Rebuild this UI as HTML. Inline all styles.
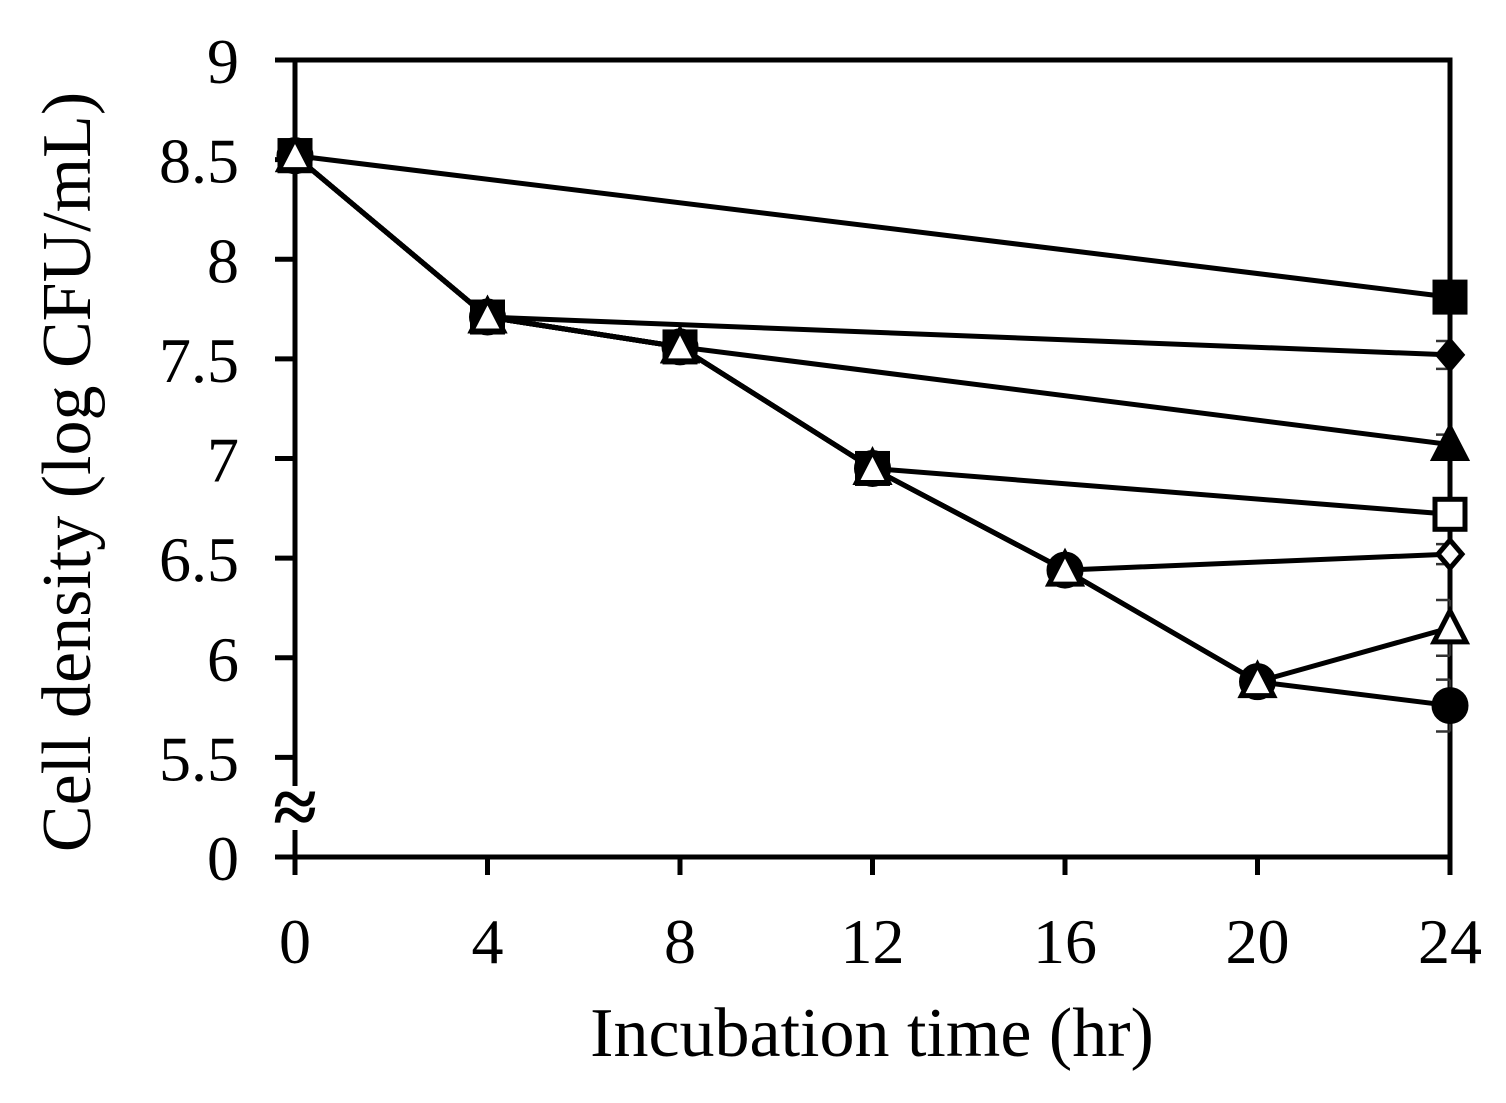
<!DOCTYPE html>
<html><head><meta charset="utf-8"><style>
html,body{margin:0;padding:0;background:#fff}
svg{display:block}
text{font-family:"Liberation Serif",serif;fill:#000}
</style></head><body>
<svg id="chart" width="1506" height="1103" viewBox="0 0 1506 1103" xmlns="http://www.w3.org/2000/svg">
<g id="axes"></g>
<g id="series"></g>
<text transform="translate(90,472) rotate(-90)" text-anchor="middle" font-size="70">Cell density (log CFU/mL)</text>
<text x="872" y="1056" text-anchor="middle" font-size="70">Incubation time (hr)</text>
</svg>
<script>
const xTicks=[0,4,8,12,16,20,24];
const yTicks=[5.5,6,6.5,7,7.5,8,8.5,9];
const commonTimes=[0,4,8,12,16,20];
const commonValues=[8.52,7.71,7.56,6.95,6.44,5.88];
const seriesNames=['filled-square','filled-diamond','filled-triangle','open-square','open-diamond','filled-circle','open-triangle'];
const branchIndex=[0,1,2,3,4,5,5];
const endValues=[7.81,7.52,7.07,6.72,6.52,5.76,6.15];
const endErrors=[0.07,0.07,0.05,0.04,0.05,0.13,0.14];
const L=295,R=1450,T=60,B=857;
function xs(t){return L+(t/24)*(R-L);}
function ys(v){return B-(v-5)*(B-T)/4;}
const NS='http://www.w3.org/2000/svg';
function mk(tag,attrs,parent){const e=document.createElementNS(NS,tag);for(const k in attrs)e.setAttribute(k,attrs[k]);parent.appendChild(e);return e;}
const ax=document.getElementById('axes');
let f=mk('rect',{x:L,y:T,width:R-L,height:B-T,fill:'none',stroke:'#000','stroke-width':5},ax);


xTicks.forEach(t=>{
 let l=mk('line',{x1:xs(t),x2:xs(t),y1:B,y2:B+18,stroke:'#000','stroke-width':5},ax);
 
 
 let tx=mk('text',{x:xs(t),y:B+106,'text-anchor':'middle','font-size':64},ax);tx.textContent=t;
 
 
});
yTicks.concat([5]).forEach(v=>{
 let l=mk('line',{x1:L-20,x2:L,y1:ys(v),y2:ys(v),stroke:'#000','stroke-width':5},ax);
 
 
 let tx=mk('text',{x:L-56,y:ys(v)+23,'text-anchor':'end','font-size':64},ax);tx.textContent=(v===5?'0':v);
 
 
});
let br=mk('rect',{x:L-16,y:786,width:32,height:44,fill:'#fff'},ax);


let bt=mk('text',{x:L,y:834,'text-anchor':'middle','font-size':80,'font-weight':'bold'},ax);bt.textContent='≈';


const sg=document.getElementById('series');
function marker(name,x,y,g){
 const filled=name.startsWith('filled');const fill=filled?'#000':'#fff';const st={fill:fill,stroke:'#000','stroke-width':5};
 const s=15;let m;
 if(name.endsWith('square'))m=mk('rect',Object.assign({x:x-s,y:y-s,width:2*s,height:2*s},st),g);
 else if(name.endsWith('diamond'))m=mk('polygon',Object.assign({points:`${x},${y-14} ${x+12},${y} ${x},${y+14} ${x-12},${y}`},st),g);
 else if(name.endsWith('triangle'))m=mk('polygon',Object.assign({points:`${x},${y-17} ${x+16},${y+14} ${x-16},${y+14}`},st),g);
 else m=mk('circle',Object.assign({cx:x,cy:y,r:16},st),g);
 return m;
}
seriesNames.forEach((name,i)=>{
 const g=mk('g',{},sg);
 
 
 const bi=branchIndex[i];
 const ts=commonTimes.slice(0,bi+1).concat([24]);
 const vs=commonValues.slice(0,bi+1).concat([endValues[i]]);
 const pl=mk('polyline',{points:ts.map((t,k)=>xs(t)+','+ys(vs[k])).join(' '),fill:'none',stroke:'#000','stroke-width':5,'stroke-linejoin':'round'},g);
 
 
 const e=endErrors[i];
 const eb=mk('path',{d:`M${xs(24)},${ys(endValues[i]-e)}V${ys(endValues[i]+e)}M${xs(24)-14},${ys(endValues[i]-e)}h14M${xs(24)-14},${ys(endValues[i]+e)}h14`,stroke:'#333','stroke-width':2.5,fill:'none'},g);
 
 
 ts.forEach((t,k)=>{const m=marker(name,xs(t),ys(vs[k]),g);
  
  });
});
</script>
</body></html>
